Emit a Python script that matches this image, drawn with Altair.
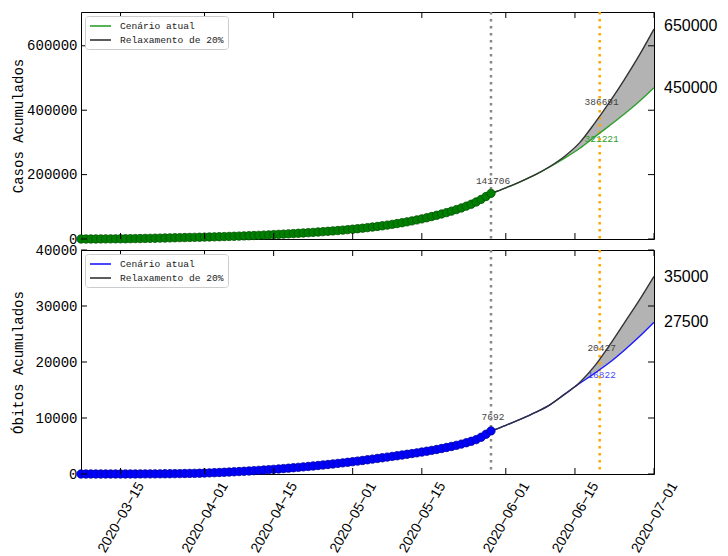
import altair as alt
import pandas as pd

# ---------------- data ----------------
obs_start = "2020-03-07"
cases_obs = [
    50, 80, 120, 180, 250, 330, 420, 520, 640, 800, 1000, 1250, 1500, 1800, 2100, 2400,
    2750, 3100, 3450, 3800, 4150, 4500, 4850, 5200, 5500,
    5900, 6300, 6700, 7100, 7500, 8000, 8500, 9000, 9600, 10200, 10800, 11400, 12100, 12800,
    13600, 14400, 15200, 16000, 16800, 17700, 18600, 19600, 20600, 21700, 22800, 23900, 25100,
    26300, 27600, 29000,
    30500, 32000, 33600, 35300, 37100, 39000, 41000, 43200, 45500, 48000, 50600, 53300, 56200,
    59300, 62500, 66000, 69700, 73600, 77700, 82000, 86500, 91300, 96400, 102000, 108000,
    115000, 123000, 132000, 141706,
]
deaths_obs = [
    0, 0, 0, 0, 0, 1, 1, 2, 3, 4, 6, 8, 11, 15, 20, 26, 33, 41, 50, 60, 72, 86, 102, 120, 140,
    170, 200, 235, 270, 310, 350, 395, 440, 490, 540, 595, 650, 710, 770, 835, 900, 970, 1040,
    1115, 1190, 1270, 1350, 1435, 1520, 1610, 1700, 1795, 1890, 1990, 2090,
    2200, 2310, 2420, 2540, 2660, 2780, 2900, 3020, 3140, 3260, 3390, 3520, 3650, 3780, 3920,
    4070, 4220, 4380, 4550, 4730, 4920, 5120, 5340, 5580, 5840, 6140, 6560, 7100, 7692,
]
proj_dates = ["2020-05-29", "2020-06-01", "2020-06-04", "2020-06-07", "2020-06-10", "2020-06-13",
              "2020-06-16", "2020-06-19", "2020-06-22", "2020-06-25", "2020-06-28", "2020-07-01"]
cases_atual = [141706, 159000, 178500, 200000, 225000, 252000, 282000, 317000, 352000, 388000, 427000, 470000]
cases_relax = [141706, 159000, 178500, 200000, 226000, 258000, 300000, 360000, 425000, 495000, 570000, 652000]
deaths_atual = [7692, 8700, 9800, 11000, 12400, 14300, 16200, 18000, 19900, 22100, 24500, 27100]
deaths_relax = [7692, 8700, 9800, 11000, 12400, 14300, 16400, 19300, 23000, 27000, 31000, 35300]

series_names = ["Cenário atual", "Relaxamento de 20%"]
last_obs_date = "2020-05-29"
mark_date = "2020-06-20"
x_domain = ["2020-03-07", "2020-07-01"]
x_ticks = ["2020-03-15", "2020-04-01", "2020-04-15", "2020-05-01", "2020-05-15",
           "2020-06-01", "2020-06-15", "2020-07-01"]
cases_yticks = [0, 200000, 400000, 600000]
deaths_yticks = [0, 10000, 20000, 30000, 40000]
cases_ymax = 705000
deaths_ymax = 40000

# (date, value, label, colour, vertical offset px)
cases_notes = [("2020-05-29", 141706, "141706", "#444444", -12),
               ("2020-06-20", 386691, "386691", "#444444", -12),
               ("2020-06-20", 321221, "321221", "#2ca02c", 3)]
deaths_notes = [("2020-05-29", 7692, "7692", "#444444", -14),
                ("2020-06-20", 20427, "20427", "#444444", -12),
                ("2020-06-20", 16822, "16822", "#4a4aff", -5)]
cases_right = [650000, 450000]
cases_right_dy = [-4, -6]
deaths_right = [35000, 27500]
deaths_right_dy = [-1, 2]

W = 573
H_TOP = 227
H_BOT = 224
GREEN = "#2ca02c"
BLUE = "#1a1aff"
DARK = "#333333"


def dt(s):
    y, m, d = map(int, s.split("-"))
    return alt.DateTime(year=y, month=m, date=d)


xscale = alt.Scale(domain=[dt(x_domain[0]), dt(x_domain[1])])


def panel(obs, atual, relax, yticks, ymax, ytitle, notes, right, right_dy, line_col, pt_fill,
          pt_stroke, height, show_x):
    obs_df = pd.DataFrame({"date": pd.date_range(obs_start, periods=len(obs)), "value": obs})
    pdates = pd.to_datetime(proj_dates)
    long_df = pd.concat([
        pd.DataFrame({"date": pdates, "value": atual, "series": series_names[0]}),
        pd.DataFrame({"date": pdates, "value": relax, "series": series_names[1]}),
    ])
    band_df = pd.DataFrame({"date": pdates, "value": relax, "value2": atual})
    xt_df = pd.DataFrame({"date": pd.to_datetime(x_ticks)})
    yt_df = pd.DataFrame({"value": yticks})
    vline_df = pd.DataFrame({"date": pd.to_datetime([last_obs_date, mark_date]),
                             "col": ["grey", "orange"]})

    if show_x:
        xaxis = alt.Axis(values=[dt(s) for s in x_ticks], labelAngle=-60, labelAlign="right",
                         labelBaseline="middle", labelOffset=20, labelPadding=9,
                         labelFlush=False, labelOverlap=False, ticks=False, domain=False,
                         grid=False, title=None, labelFont="Liberation Sans", labelFontSize=14,
                         labelColor="black",
                         labelExpr="replace(timeFormat(datum.value, '%Y-%m-%d'), /-/g, '\u2212')")
    else:
        xaxis = None
    X = alt.X("date:T", scale=xscale, axis=xaxis)
    Y = alt.Y("value:Q", scale=alt.Scale(domain=[0, ymax], nice=False, zero=True),
              axis=alt.Axis(values=yticks, format="d", ticks=False, domain=False, grid=False,
                            labelFont="Liberation Mono", labelFontSize=14, labelColor="black",
                            labelPadding=4, title=ytitle, titleFont="Liberation Mono",
                            titleFontSize=14, titleFontWeight="normal", titleColor="black",
                            titleX=-63, titleBaseline="middle"))

    band = alt.Chart(band_df).mark_area(color="#b3b3b3", opacity=1).encode(
        x=X, y=Y, y2="value2:Q")
    texts = []
    for d, v, lab, col, dy in notes:
        ndf = pd.DataFrame({"date": pd.to_datetime([d]), "value": [v], "label": [lab]})
        texts.append(alt.Chart(ndf).mark_text(font="Liberation Mono", fontSize=9.5, align="center",
                                              baseline="middle", dx=2, dy=dy, color=col).encode(
            x=X, y=Y, text="label:N"))
    vlines = alt.Chart(vline_df).mark_rule(strokeWidth=2.5, strokeDash=[2.5, 4.5]).encode(
        x=X, color=alt.Color("col:N", scale=alt.Scale(domain=["grey", "orange"],
                                                      range=["#888888", "#ffa500"]), legend=None))
    lines = alt.Chart(long_df).mark_line(strokeWidth=1.4, interpolate="monotone").encode(
        x=X, y=Y,
        color=alt.Color("series:N",
                        scale=alt.Scale(domain=series_names, range=[line_col, DARK]),
                        legend=alt.Legend(title=None, orient="top-left", offset=4, padding=4,
                                          symbolType="M-1,0H3.2", symbolSize=100,
                                          symbolStrokeWidth=1.6, labelFont="Liberation Mono",
                                          labelFontSize=9.6, labelOffset=19, rowPadding=3,
                                          strokeColor="#cccccc", fillColor="white",
                                          cornerRadius=3, labelColor="#222222")))
    pts = alt.Chart(obs_df).mark_circle(size=70, color=pt_fill, stroke=pt_stroke,
                                        strokeWidth=0.8, opacity=1).encode(x=X, y=Y)
    rtexts = []
    for v, dy in zip(right, right_dy):
        rdf = pd.DataFrame({"value": [v], "label": [str(v)]})
        rtexts.append(alt.Chart(rdf).mark_text(font="Liberation Sans", fontSize=16, align="left",
                                               baseline="middle", color="black", dy=dy).encode(
            x=alt.value(W + 10), y=Y, text="label:N"))
    tk = dict(color="black", strokeWidth=1)
    xt_bot = alt.Chart(xt_df).mark_rule(**tk).encode(x=X, y=alt.value(height), y2=alt.value(height - 6))
    xt_top = alt.Chart(xt_df).mark_rule(**tk).encode(x=X, y=alt.value(0), y2=alt.value(6))
    yt_l = alt.Chart(yt_df).mark_rule(**tk).encode(y=Y, x=alt.value(0), x2=alt.value(6))
    yt_r = alt.Chart(yt_df).mark_rule(**tk).encode(y=Y, x=alt.value(W), x2=alt.value(W - 6))

    layers = [band] + texts + [vlines, lines, pts] + rtexts + [xt_bot, xt_top, yt_l, yt_r]
    return alt.layer(*layers).resolve_scale(color="independent").properties(width=W, height=height)


top = panel(cases_obs, cases_atual, cases_relax, cases_yticks, cases_ymax, "Casos Acumulados",
            cases_notes, cases_right, cases_right_dy, GREEN, "#008000", "#005000", H_TOP, False)
bot = panel(deaths_obs, deaths_atual, deaths_relax, deaths_yticks, deaths_ymax, "Óbitos Acumulados",
            deaths_notes, deaths_right, deaths_right_dy, BLUE, "#0000ff", "#0000a0", H_BOT, True)

chart = alt.vconcat(top, bot, spacing=-5).resolve_scale(color="independent").configure_view(
    stroke="black", strokeWidth=1).properties(padding={"left": 2, "top": 2, "right": 2, "bottom": 0})

chart.save("out.html", embed_options={"renderer": "svg", "actions": False})
